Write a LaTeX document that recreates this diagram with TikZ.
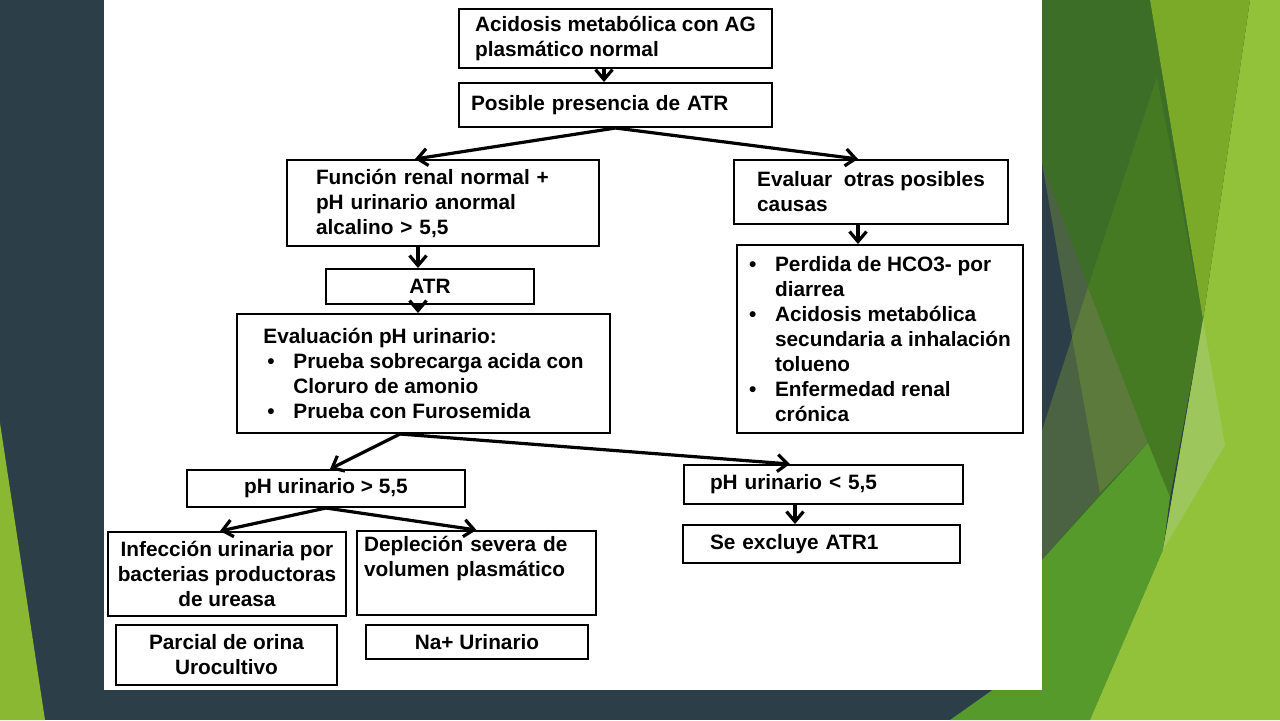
\documentclass[tikz,border=0pt]{standalone}
\usepackage{fontspec}
\setmainfont{Liberation Sans}
\usetikzlibrary{arrows.meta}
\definecolor{pizarra}{HTML}{2C3E48}
\definecolor{verdeizq}{HTML}{8AB833}
\definecolor{verdeoscuro}{HTML}{3D6E27}
\definecolor{verdebrillo}{HTML}{457A22}
\definecolor{olivo}{HTML}{4B6343}
\definecolor{olivoclaro}{HTML}{5B7A3B}
\definecolor{verdemedio}{HTML}{559A2B}
\definecolor{verdelima}{HTML}{92C23A}
\definecolor{palido}{HTML}{9DC65C}
\definecolor{verdemanzana}{HTML}{7AAA28}
\newcommand{\bul}{\makebox[13pt][l]{\textbullet}}
\newcommand{\sang}{\hspace*{13pt}}
\begin{document}
\begin{tikzpicture}[x=0.5pt, y=-0.5pt,
    box/.style={draw, line width=1pt, align=left, inner sep=0pt,
      font=\fontsize{10.4}{12.5}\selectfont\bfseries},
    flecha/.style={-{Straight Barb[length=5pt,width=8.5pt]}, line width=1.6pt}]
  \useasboundingbox (0,0) rectangle (1280,720);
  \fill[pizarra] (0,0) rectangle (1280,720);
  \fill[verdeizq] (0,423) -- (45,720) -- (0,720) -- cycle;
  \fill[verdeoscuro] (1042,0) -- (1150,0) -- (1203,320) -- (1170,497) -- (1042,560) -- cycle;
  \fill[olivo] (1042,163) -- (1088,287) -- (1100,493) -- (1042,560) -- cycle;
  \fill[olivoclaro] (1088,287) -- (1148,443) -- (1100,493) -- (1072,337) -- cycle;
  \fill[pizarra] (1042,163) -- (1072,337) -- (1042,430) -- cycle;
  \fill[verdebrillo] (1157,77) -- (1203,320) -- (1170,497) -- (1148,443) -- (1088,287) -- cycle;
  \fill[verdemedio] (1042,560) -- (1148,443) -- (1170,497) -- (1163,550) -- (1090,720) -- (950,720) -- (1042,655) -- cycle;
  \fill[verdelima] (1250,0) -- (1280,0) -- (1280,720) -- (1090,720) -- (1163,550) -- (1203,320) -- cycle;
  \fill[palido] (1203,320) -- (1225,445) -- (1163,550) -- cycle;
  \fill[verdemanzana] (1150,0) -- (1250,0) -- (1203,320) -- cycle;
  \fill[white] (104,0) rectangle (1042,690);

  \node[box, minimum width=156.5pt, minimum height=29.5pt] (acidosis) at (615.5,38.5)
    {Acidosis metabólica con AG\\plasmático normal};
  \node[box, minimum height=22pt, text width=144.5pt, inner xsep=6pt] (presencia) at (615.5,105)
    {Posible presencia de ATR};
  \node[box, minimum height=43pt, text width=127pt, inner xsep=14.5pt] (funcion) at (443,203)
    {Función renal normal +\\pH urinario anormal\\alcalino > 5,5};
  \node[box, minimum width=137pt, minimum height=32pt] (causas) at (871,192)
    {Evaluar\ \ otras posibles\\causas};
  \node[box, align=center, minimum width=104pt, minimum height=17.5pt] (atr) at (430,286.5) {ATR};
  \node[box, minimum width=186.5pt, minimum height=59.5pt] (evalph) at (423.5,373.5)
    {Evaluación pH urinario:\\\hspace*{2pt}\bul Prueba sobrecarga acida con\\\hspace*{15pt}Cloruro de amonio\\\hspace*{2pt}\bul Prueba con Furosemida};
  \node[box, minimum width=143pt, minimum height=94pt] (otras) at (880,339)
    {\bul Perdida de HCO3- por\\\sang diarrea\\\bul Acidosis metabólica\\\sang secundaria a inhalación\\\sang tolueno\\\bul Enfermedad renal\\\sang crónica};
  \node[box, align=center, minimum width=139pt, minimum height=18.5pt] (phmayor) at (326,488.5)
    {pH urinario > 5,5};
  \node[box, minimum height=19.5pt, text width=113.5pt, inner xsep=13pt] (phmenor) at (823.5,484.5)
    {pH urinario < 5,5};
  \node[box, minimum height=19pt, text width=111.5pt, inner xsep=13.5pt] (excluye) at (821.5,544)
    {Se excluye ATR1};
  \node[box, align=center, minimum width=119pt, minimum height=42pt] (infeccion) at (227,574)
    {Infección urinaria por\\bacterias productoras\\de ureasa};
  \node[box, minimum height=42pt, text width=112.5pt, inner xsep=3.5pt] (deplecion) at (476.5,573)
    {Depleción severa de\\volumen plasmático\\\strut};
  \node[box, align=center, minimum width=110.5pt, minimum height=30pt] (parcial) at (226.5,655)
    {Parcial de orina\\Urocultivo};
  \node[box, align=center, minimum width=111pt, minimum height=17pt] (sodio) at (477,642)
    {Na+ Urinario};

  \begin{scope}[flecha]
    \draw ([xshift=-5.75pt]acidosis.south) -- ([xshift=-5.75pt]presencia.north);
    \draw (presencia.south) -- ([xshift=-14pt]funcion.north);
    \draw (presencia.south) -- ([xshift=-6.5pt]causas.north);
    \draw ([xshift=-12.5pt]funcion.south) -- ([xshift=-6pt]atr.north);
    \draw ([xshift=-6pt]atr.south) -- ([xshift=-2.75pt]evalph.north);
    \draw ([xshift=-6.5pt]causas.south) -- ([xshift=-11pt]otras.north);
    \draw ([xshift=-11.75pt]evalph.south) -- ([xshift=2pt]phmayor.north);
    \draw ([xshift=-11.75pt]evalph.south) -- ([xshift=-16.75pt]phmenor.north);
    \draw ([xshift=-14.25pt]phmenor.south) -- ([xshift=-13.25pt]excluye.north);
    \draw (phmayor.south) -- ([xshift=-3.5pt]infeccion.north);
    \draw (phmayor.south) -- (deplecion.north);
  \end{scope}
\end{tikzpicture}
\end{document}
